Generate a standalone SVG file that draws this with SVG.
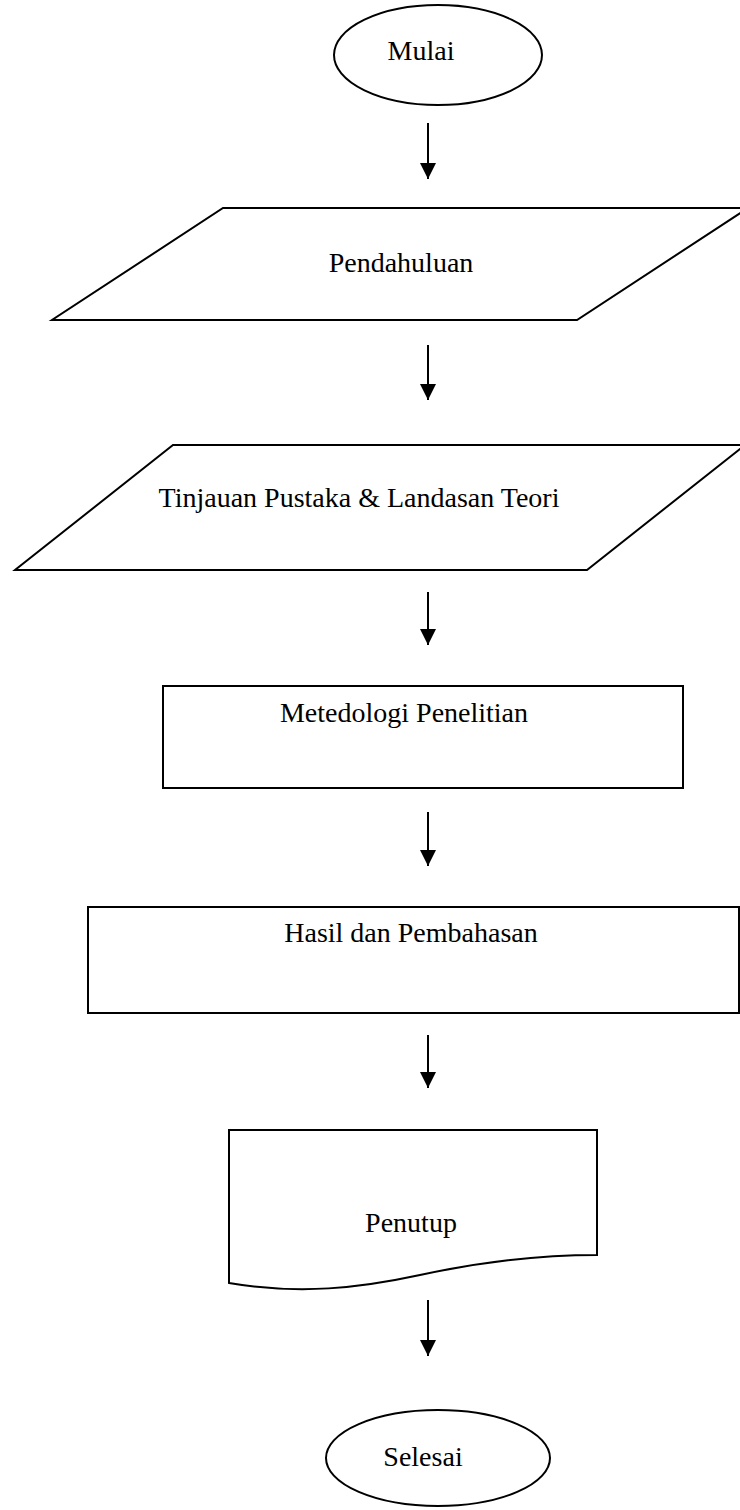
<svg xmlns="http://www.w3.org/2000/svg" width="740" height="1510" viewBox="0 0 740 1510">
<style>
.s{fill:#fff;stroke:#000;stroke-width:2}
.t{font-family:"Liberation Serif","Times New Roman",serif;font-size:28px;fill:#000;text-anchor:middle}
.c{stroke:#000;stroke-width:2;fill:none;marker-end:url(#ah)}
</style>
<defs>
<marker id="ah" markerWidth="8" markerHeight="8" refX="4" refY="8" orient="auto" markerUnits="userSpaceOnUse" viewBox="0 0 8 8">
<path d="M0,0 L8,0 L4,8 Z" fill="#000" transform="rotate(-90 4 4)"/>
</marker>
</defs>
<rect width="740" height="1510" fill="#fff"/>
<g id="connectors">
<path d="M428,123 V179" stroke="#000" stroke-width="2"/>
<path d="M420,163 L436,163 L428,179 Z" fill="#000"/>
<path d="M428,345 V400" stroke="#000" stroke-width="2"/>
<path d="M420,384 L436,384 L428,400 Z" fill="#000"/>
<path d="M428,592 V645" stroke="#000" stroke-width="2"/>
<path d="M420,629 L436,629 L428,645 Z" fill="#000"/>
<path d="M428,812 V866" stroke="#000" stroke-width="2"/>
<path d="M420,850 L436,850 L428,866 Z" fill="#000"/>
<path d="M428,1035 V1088" stroke="#000" stroke-width="2"/>
<path d="M420,1072 L436,1072 L428,1088 Z" fill="#000"/>
<path d="M428,1300 V1356" stroke="#000" stroke-width="2"/>
<path d="M420,1340 L436,1340 L428,1356 Z" fill="#000"/>
</g>
<g id="mulai">
<ellipse class="s" cx="438" cy="55" rx="104" ry="50"/>
<text class="t" x="421" y="60">Mulai</text>
</g>
<g id="pendahuluan">
<polygon class="s" points="223,208 748,208 577,320 52,320"/>
<text class="t" x="401" y="272">Pendahuluan</text>
</g>
<g id="tinjauan">
<polygon class="s" points="173,445 745,445 587,570 15,570"/>
<text class="t" x="359" y="507">Tinjauan Pustaka &amp; Landasan Teori</text>
</g>
<g id="metedologi">
<rect class="s" x="163" y="686" width="520" height="102"/>
<text class="t" x="404" y="722">Metedologi Penelitian</text>
</g>
<g id="hasil">
<rect class="s" x="88" y="907" width="651" height="106"/>
<text class="t" x="411" y="942">Hasil dan Pembahasan</text>
</g>
<g id="penutup">
<path class="s" d="M229,1130 H597 V1255 C540,1255 480,1262 420,1275 C360,1288 300,1295 229,1283 Z"/>
<text class="t" x="411" y="1232">Penutup</text>
</g>
<g id="selesai">
<ellipse class="s" cx="438" cy="1458" rx="112" ry="48"/>
<text class="t" x="423" y="1466">Selesai</text>
</g>
</svg>
